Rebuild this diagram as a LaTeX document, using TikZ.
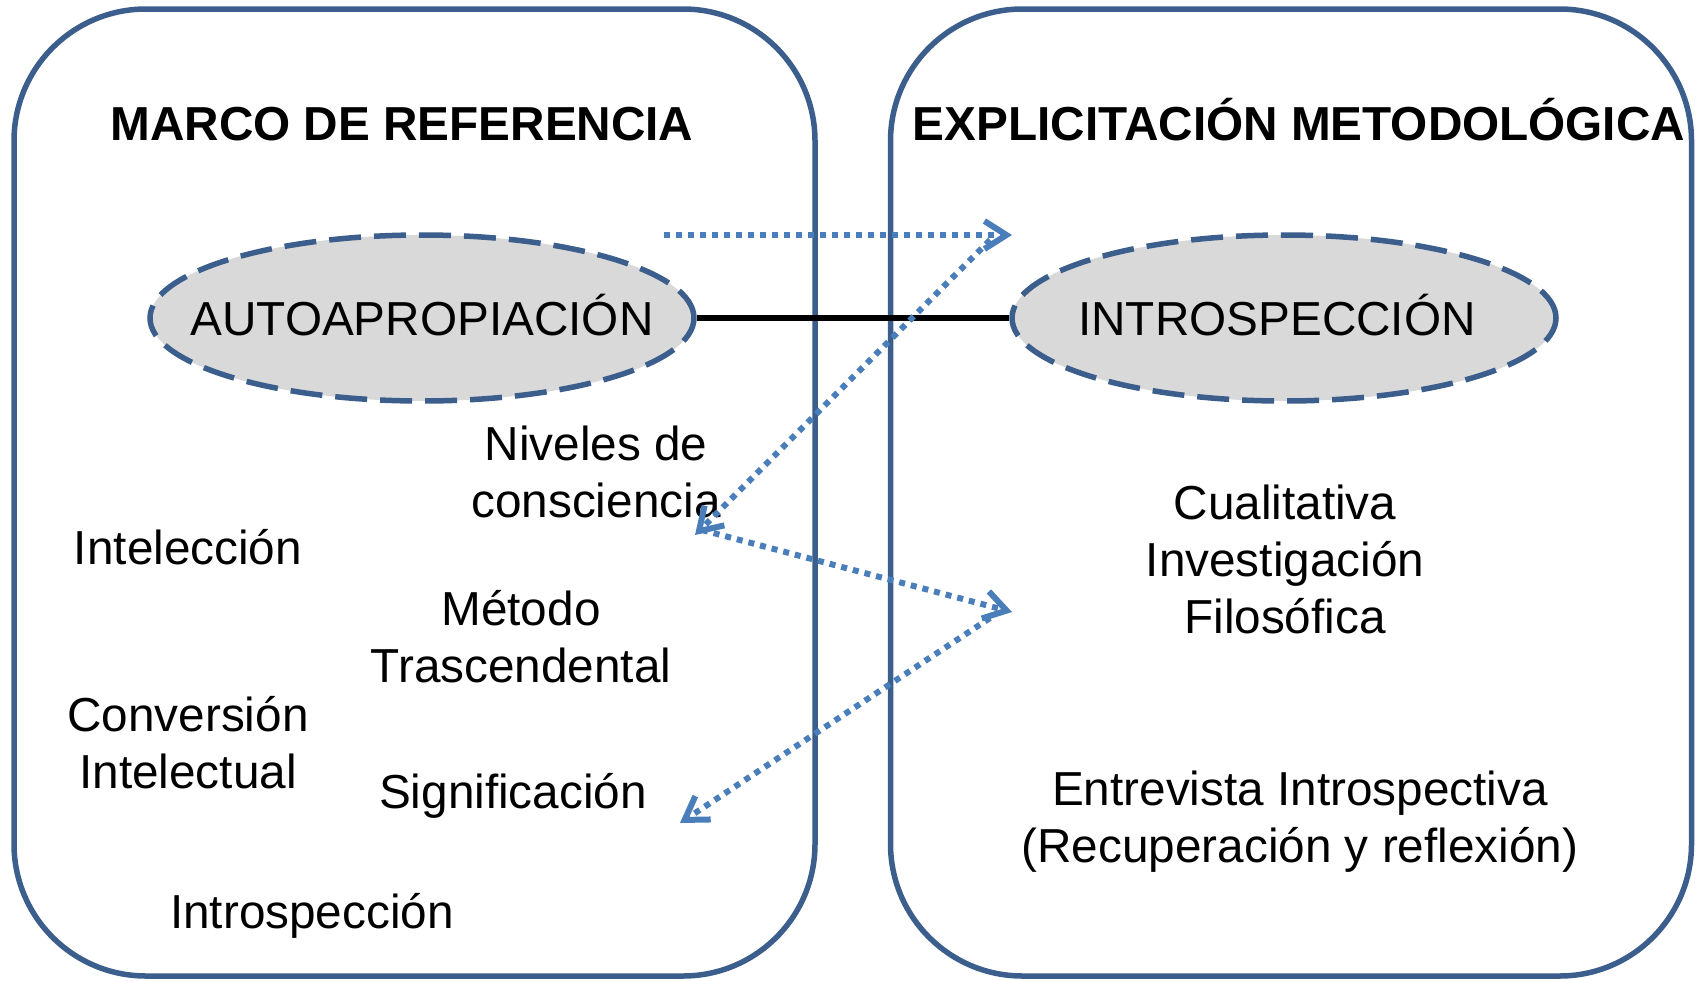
\documentclass[tikz,border=0pt]{standalone}
\usepackage{fontspec}
\setmainfont{Liberation Sans}
\usetikzlibrary{arrows.meta,shapes.geometric}
\definecolor{frameblue}{HTML}{3B5E8C}
\definecolor{arrowblue}{HTML}{4A7EBB}
\definecolor{ovalgray}{HTML}{D9D9D9}

\begin{document}
\begin{tikzpicture}[x=1pt,y=-1pt,>={Straight Barb[length=22pt,width=28pt]}]
    \tikzset{panel/.style={
      draw=frameblue,
      line width=5.5pt,
      rounded corners=132pt,
      minimum width=801pt,
      minimum height=967pt
    },
    heading/.style={font=\fontsize{47.7}{57}\selectfont\bfseries, inner sep=0pt, anchor=base},
    txt/.style={font=\fontsize{47.7}{57}\selectfont, align=center, inner sep=0pt},
    oval/.style={
      ellipse,
      draw=frameblue,
      fill=ovalgray,
      line width=5.5pt,
      dash pattern=on 32pt off 13pt,
      minimum width=544pt,
      minimum height=166pt,
      inner sep=0pt
    },
    ovaltext/.style={font=\fontsize{47.7}{57}\selectfont, inner sep=0pt, text height=34pt, text depth=0pt},
    dotlink/.style={draw=arrowblue, line width=6pt, dash pattern=on 6pt off 6pt}};

    \useasboundingbox (0,0) rectangle (1700,980);

    \node [panel] (marco) at (414.5,492.5) {};
    \node [panel] (explic) at (1291,492.5) {};

    \node [heading] (marcotitle) at (402,140) {MARCO DE REFERENCIA};
    \node [heading] (explictitle) at (1299,140) {EXPLICITACIÓN METODOLÓGICA};

    \node [oval] (autoap) at (422,318) {};
    \node [ovaltext] (autoaptext) at (autoap.center) {AUTOAPROPIACIÓN};
    \node [oval] (intro) at (1284,318) {};
    \node [ovaltext] (introtext) at (1277,318) {INTROSPECCIÓN};

    \node [txt] (niveles) at (596,472) {Niveles de\\consciencia};
    \node [txt, anchor=base] (intelec) at (188,564) {Intelección};
    \node [txt] (metodo) at (521,637) {Método\\Trascendental};
    \node [txt] (conver) at (188,743) {Conversión\\Intelectual};
    \node [txt, anchor=base] (signif) at (513,808) {Significación};
    \node [txt, anchor=base] (introsp) at (312,928) {Introspección};
    \node [txt] (cualit) at (1285,559) {Cualitativa\\Investigación\\Filosófica};
    \node [txt] (entrev) at (1300,822) {Entrevista Introspectiva\\(Recuperación y reflexión)};

    \path[draw,line width=6.5pt] (autoap.east) -- (intro.west);

    \coordinate (topfrom) at (664,235);
    \coordinate (topto) at (1012,235);
    \coordinate (diagfrom) at (990,240);
    \coordinate (diagto) at (695,535);
    \coordinate (midfrom) at (702,530);
    \coordinate (midto) at (1012,612);
    \coordinate (lowfrom) at (990,618);
    \coordinate (lowto) at (680,823);

    \path[dotlink,->] (topfrom) -- (topto);
    \path[dotlink,->] (diagfrom) -- (diagto);
    \path[dotlink,->] (midfrom) -- (midto);
    \path[dotlink,->] (lowfrom) -- (lowto);

  \end{tikzpicture}
\end{document}
